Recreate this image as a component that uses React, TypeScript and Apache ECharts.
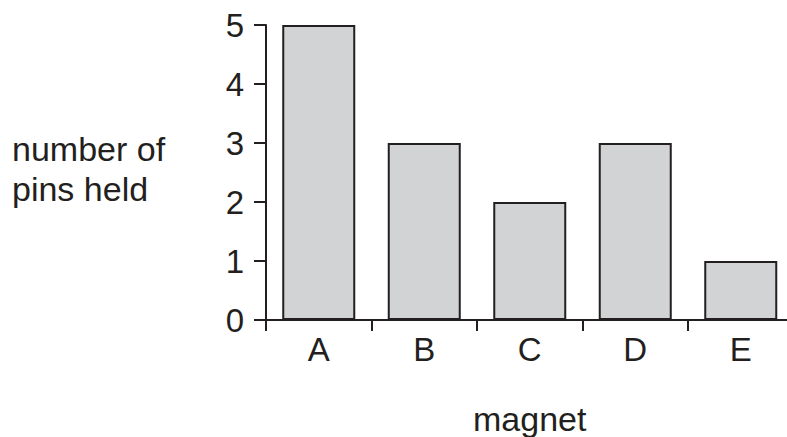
import React, { useEffect, useRef } from "react";
import * as echarts from "echarts";

const categories = ["A", "B", "C", "D", "E"];
const pinsHeld = [5, 3, 2, 3, 1];
const yTicks = [0, 1, 2, 3, 4, 5];

const INK = "#231f20";
const FONT = '"Liberation Sans", Arial, Helvetica, sans-serif';

export default function App() {
  const ref = useRef<HTMLDivElement>(null);
  useEffect(() => {
    if (!ref.current) return;
    const chart = echarts.init(ref.current, null, { renderer: "svg" });
    chart.setOption({
      animation: false,
      backgroundColor: "#ffffff",
      textStyle: { fontFamily: FONT, color: INK },
      grid: {
        left: 266,
        top: 25,
        width: 527.5,
        bottom: 117,
        containLabel: false,
        outerBoundsMode: "none",
      },
      xAxis: {
        type: "category",
        data: categories,
        name: "magnet",
        nameLocation: "middle",
        nameGap: 82,
        nameTextStyle: { fontSize: 34, color: INK, fontFamily: FONT },
        axisLine: { show: true, lineStyle: { color: INK, width: 2 } },
        axisTick: { show: true, length: 11, lineStyle: { color: INK, width: 2 } },
        axisLabel: { fontSize: 33, color: INK, margin: 13, fontFamily: FONT },
        splitLine: { show: false },
      },
      yAxis: {
        type: "value",
        min: yTicks[0],
        max: yTicks[yTicks.length - 1],
        interval: 1,
        axisLine: { show: true, lineStyle: { color: INK, width: 2 } },
        axisTick: { show: true, length: 12, lineStyle: { color: INK, width: 2 } },
        axisLabel: { fontSize: 33, color: INK, margin: 22, fontFamily: FONT },
        splitLine: { show: false },
      },
      graphic: [
        {
          type: "text",
          left: 12,
          top: 129,
          style: {
            text: "number of\npins held",
            fontSize: 34,
            lineHeight: 40,
            fill: INK,
            fontFamily: FONT,
          },
        },
      ],
      series: [
        {
          type: "bar",
          data: pinsHeld,
          barWidth: 73,
          itemStyle: { color: "#d1d3d4", borderColor: INK, borderWidth: 2 },
        },
      ],
    });
    return () => chart.dispose();
  }, []);
  return (
    <div
      ref={ref}
      style={{ position: "fixed", left: 0, top: 0, width: 787, height: 437 }}
    />
  );
}
